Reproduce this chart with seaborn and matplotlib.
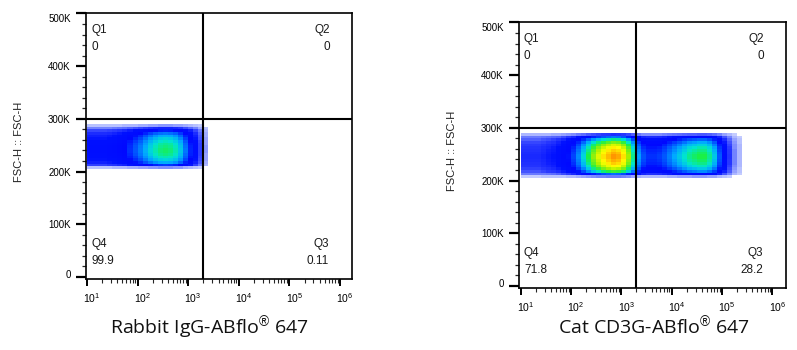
import numpy as np
import pandas as pd
import matplotlib
matplotlib.use("Agg")
import matplotlib.pyplot as plt
import seaborn as sns
from matplotlib.colors import LinearSegmentedColormap
from matplotlib.ticker import FixedLocator
from matplotlib.transforms import ScaledTranslation, offset_copy

sns.set_theme(style="ticks")
plt.rcParams['font.family'] = ['Liberation Sans', 'DejaVu Sans']
plt.rcParams['mathtext.fontset'] = 'custom'
plt.rcParams['mathtext.rm'] = 'Liberation Sans'
plt.rcParams['mathtext.it'] = 'Liberation Sans:italic'
plt.rcParams['mathtext.bf'] = 'Liberation Sans:bold'

# ---------------- data ----------------
x_titles = ["Rabbit IgG-ABflo$^{®}$ 647", "Cat CD3G-ABflo$^{®}$ 647"]
y_title = "FSC-H :: FSC-H"
quadrants = ["Q1", "Q2", "Q3", "Q4"]
left_percents = ["0", "0", "0.11", "99.9"]
right_percents = ["0", "0", "28.2", "71.8"]
gate_x_log = 3.29          # log10 of the vertical gate (~1950)
gate_y = 300000            # horizontal gate on FSC-H
y_ticks = [0, 100000, 200000, 300000, 400000, 500000]
y_tick_labels = ["0", "100K", "200K", "300K", "400K", "500K"]
x_ticks = [1, 2, 3, 4, 5, 6]
x_tick_labels = ["$10^{1}$", "$10^{2}$", "$10^{3}$", "$10^{4}$", "$10^{5}$", "$10^{6}$"]

# density: log10(fluorescence) bins (left edges, 0.1 wide)
left_x_bins = [1.0, 1.1, 1.2, 1.3, 1.4, 1.5, 1.6, 1.7, 1.8, 1.9, 2.0, 2.1, 2.2,
               2.3, 2.4, 2.5, 2.6, 2.7, 2.8, 2.9, 3.0, 3.1, 3.2, 3.3]
left_x_density = [0.14, 0.14, 0.14, 0.14, 0.15, 0.16, 0.18, 0.20, 0.24, 0.28, 0.32,
                  0.37, 0.42, 0.46, 0.49, 0.50, 0.49, 0.46, 0.40, 0.31, 0.23, 0.14,
                  0.07, 0.02]
right_x_bins = [1.0, 1.1, 1.2, 1.3, 1.4, 1.5, 1.6, 1.7, 1.8, 1.9, 2.0, 2.1, 2.2,
                2.3, 2.4, 2.5, 2.6, 2.7, 2.8, 2.9, 3.0, 3.1, 3.2, 3.3, 3.4, 3.5,
                3.6, 3.7, 3.8, 3.9, 4.0, 4.1, 4.2, 4.3, 4.4, 4.5, 4.6, 4.7, 4.8,
                4.9, 5.0, 5.1, 5.2, 5.3]
right_x_density = [0.09, 0.09, 0.09, 0.09, 0.10, 0.11, 0.12, 0.14, 0.17, 0.21, 0.26,
                   0.33, 0.42, 0.52, 0.62, 0.70, 0.77, 0.82, 0.86, 0.84, 0.77, 0.64,
                   0.48, 0.35, 0.27, 0.24, 0.24, 0.25, 0.28, 0.32, 0.36, 0.40, 0.44,
                   0.48, 0.50, 0.52, 0.52, 0.48, 0.40, 0.28, 0.16, 0.08, 0.03, 0.01]
# FSC-H bins (left edges, 5K wide)
fsc_bins = [205000, 210000, 215000, 220000, 225000, 230000, 235000, 240000, 245000,
            250000, 255000, 260000, 265000, 270000, 275000, 280000, 285000]
left_fsc_density = [0.05, 0.50, 0.74, 0.85, 0.92, 0.97, 1.00, 1.00, 0.98, 0.95, 0.90,
                    0.83, 0.74, 0.62, 0.45, 0.20, 0.04]
right_fsc_density = [0.04, 0.35, 0.64, 0.78, 0.87, 0.93, 0.97, 1.00, 1.00, 0.97, 0.93,
                     0.88, 0.80, 0.70, 0.56, 0.36, 0.10]

# ---------------- style ----------------
cmap = LinearSegmentedColormap.from_list("flow", [
    (0.0, "#c4ccff"), (0.03, "#6c7cff"), (0.07, "#2a3aff"), (0.12, "#0010ff"),
    (0.2, "#0008ff"), (0.28, "#0058ff"), (0.36, "#00a8ff"), (0.44, "#00e4d0"),
    (0.52, "#18f048"), (0.64, "#a8f000"), (0.74, "#ffff00"), (0.87, "#ff9000"),
    (1.0, "#ff0000")])

W, H = 797, 350
fig = plt.figure(figsize=(W / 100, H / 100), dpi=100)


def add_ax(l, t, r, b):
    return fig.add_axes([l / W, 1 - b / H, (r - l) / W, (b - t) / H])


def panel(ax, xb, xd, yd, pcts, xlim):
    xb = np.asarray(xb, float)
    yb = np.asarray(fsc_bins, float)
    xe = np.append(xb, xb[-1] + 0.1)
    ye = np.append(yb, yb[-1] + 5000)
    gx, gy = np.meshgrid(xb + 0.05, yb + 2500, indexing="ij")
    gw = np.outer(xd, yd)
    df = pd.DataFrame({"x": gx.ravel(), "y": gy.ravel(), "w": gw.ravel()})
    df = df[df["w"] > 0.002]
    sns.histplot(data=df, x="x", y="y", weights="w", bins=[xe, ye],
                 cmap=cmap, vmin=0, vmax=1, ax=ax)
    ax.axvline(gate_x_log, color="black", lw=1.5, zorder=5)
    ax.axhline(gate_y, color="black", lw=1.5, zorder=5)
    ax.set_xlim(*xlim)
    ax.set_ylim(-4000, 501500)
    ax.set_xlabel("")
    ax.set_ylabel("")
    ax.yaxis.set_major_locator(FixedLocator(y_ticks))
    ax.set_yticklabels(y_tick_labels)
    ax.yaxis.set_minor_locator(FixedLocator([v for v in range(0, 500001, 20000)
                                             if v % 100000]))
    ax.xaxis.set_major_locator(FixedLocator(x_ticks))
    ax.set_xticklabels(x_tick_labels)
    minors = [n + np.log10(k) for n in range(1, 6) for k in range(2, 10)]
    ax.xaxis.set_minor_locator(FixedLocator(minors))
    ax.tick_params(axis="y", which="major", length=7, width=1.6, pad=4,
                   labelsize=7, colors="black")
    ax.tick_params(axis="y", which="minor", length=3, width=0.9)
    ax.tick_params(axis="x", which="major", length=5, width=1.4, pad=4,
                   labelsize=7.5, colors="black")
    ax.tick_params(axis="x", which="minor", length=3, width=0.8)
    for s in ax.spines.values():
        s.set_visible(True)
        s.set_color("black")
        s.set_linewidth(1.2)
    for lab in ax.get_xticklabels():
        lab.set_transform(lab.get_transform() +
                          ScaledTranslation(5 / 100, 0, fig.dpi_scale_trans))
    labs = ax.get_yticklabels()
    labs[-1].set_transform(labs[-1].get_transform() +
                           ScaledTranslation(0, -5 / 100, fig.dpi_scale_trans))
    labs[0].set_transform(labs[0].get_transform() +
                          ScaledTranslation(0, 3 / 100, fig.dpi_scale_trans))
    # quadrant annotations (offsets in pixels from the box corners)
    tk = dict(fontsize=8.5, color="#1a1a1a")
    q1, q2, q3, q4 = quadrants
    p1, p2, p3, p4 = pcts
    specs = [
        (0, 1, 5, -17, "left", q1), (0, 1, 5, -34, "left", p1),
        (1, 1, -22, -17, "right", q2), (1, 1, -22, -34, "right", p2),
        (0, 0, 5, 35, "left", q4), (0, 0, 5, 18, "left", p4),
        (1, 0, -23, 35, "right", q3), (1, 0, -23, 18, "right", p3),
    ]
    for ax_x, ax_y, dx, dy, ha, s in specs:
        tr = offset_copy(ax.transAxes, fig=fig, x=dx, y=dy, units="dots")
        ax.text(ax_x, ax_y, s, transform=tr, ha=ha, va="center", **tk)


ax1 = add_ax(86, 12.7, 352, 279)
panel(ax1, left_x_bins, left_x_density, left_fsc_density, left_percents, (0.98, 6.24))
ax2 = add_ax(519, 21.7, 786, 288)
panel(ax2, right_x_bins, right_x_density, right_fsc_density, right_percents, (0.97, 6.27))

fig.text(19 / W, 1 - 142 / H, y_title, rotation=90, ha="center", va="center",
         fontsize=8, color="#222222")
fig.text(452 / W, 1 - 151 / H, y_title, rotation=90, ha="center", va="center",
         fontsize=8, color="#222222")
fig.text(209 / W, 1 - 334 / H, x_titles[0], ha="center", va="baseline",
         fontsize=14, color="#111111", family=["Open Sans", "DejaVu Sans"])
fig.text(654 / W, 1 - 334 / H, x_titles[1], ha="center", va="baseline",
         fontsize=14, color="#111111", family=["Open Sans", "DejaVu Sans"])

fig.savefig("out.png", dpi=100)
